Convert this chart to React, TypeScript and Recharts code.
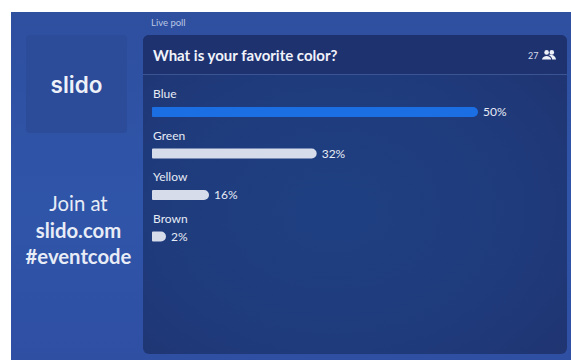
import { BarChart, Bar, XAxis, YAxis, Cell, LabelList } from "recharts";

const categories = ["Blue", "Green", "Yellow", "Brown"];
const percents = [50, 32, 16, 2];
const barColors = ["#1b6fe3", "#d6dcea", "#d6dcea", "#d6dcea"];

const rows = categories.map((name, i) => ({ name, percent: percents[i] }));

// Bar lengths on this board grow faster than the percentages, so the value axis is a power scale
function powerScale(exponent: number) {
  const make = (dom: number[], rng: number[]) => {
    const scale: any = (v: number) => {
      const t = (v - dom[0]) / (dom[1] - dom[0] || 1);
      return rng[0] + Math.pow(Math.max(t, 0), exponent) * (rng[1] - rng[0]);
    };
    scale.domain = (d?: number[]) => (d ? make(d, rng) : dom);
    scale.range = (r?: number[]) => (r ? make(dom, r) : rng);
    scale.copy = () => make(dom, rng);
    scale.ticks = () => dom;
    return scale;
  };
  return make([0, 1], [0, 1]);
}

const font = "Lato, sans-serif";

function NameLabel(props: any) {
  const { x, y, value } = props;
  return (
    <text x={x + 1} y={y - 9} fill="#e6ebf5" fontSize={12} fontFamily={font}>
      {value}
    </text>
  );
}

function PercentLabel(props: any) {
  const { x, y, width, height, value } = props;
  return (
    <text
      x={x + width + 5}
      y={y + height / 2 + 4}
      fill="#e6ebf5"
      fontSize={12}
      fontFamily={font}
    >
      {value}%
    </text>
  );
}

function PeopleIcon() {
  return (
    <svg width={14} height={10} viewBox="0 0 14 10" style={{ position: "absolute", left: 542, top: 50 }}>
      <circle cx={4.6} cy={2.4} r={2.3} fill="#eef1f8" />
      <circle cx={9.8} cy={2.4} r={2.3} fill="#eef1f8" />
      <path d="M0 9.5 C0.4 4.8 8.8 4.8 9.2 9.5 Z" fill="#eef1f8" />
      <path d="M6.5 5 C9 4.4 13.6 5.2 14 9.5 L10.2 9.5 C10 7.4 8.4 5.8 6.5 5 Z" fill="#eef1f8" />
    </svg>
  );
}

export default function App() {
  return (
    <div style={{ position: "absolute", left: 0, top: 0, width: 571, height: 360, background: "#fff", overflow: "hidden", fontFamily: font }}>
      <div
        style={{
          position: "absolute",
          left: 11,
          top: 12,
          width: 560,
          height: 348,
          background: "linear-gradient(180deg, #2f4f9f 0%, #2f55a9 55%, #2f4fa3 100%)",
        }}
      />
      <div style={{ position: "absolute", left: 151, top: 17, fontSize: 9.5, color: "#b9c6e4" }}>Live poll</div>

      <div style={{ position: "absolute", left: 26, top: 35, width: 101, height: 98, borderRadius: 4, background: "#2c4b99" }} />
      <div style={{ position: "absolute", left: 26, top: 71, width: 101, textAlign: "center", fontSize: 22.5, fontWeight: 600, fontFamily: "Inter, sans-serif", color: "#eef1f8" }}>
        slido
      </div>
      <div style={{ position: "absolute", left: 14, top: 190, width: 129, textAlign: "center", fontSize: 20.3, lineHeight: "26.5px", color: "#e8ecf6" }}>
        <div style={{ fontWeight: 400 }}>Join at</div>
        <div style={{ fontWeight: 700 }}>slido.com</div>
        <div style={{ fontWeight: 700 }}>#eventcode</div>
      </div>

      <div
        style={{
          position: "absolute",
          left: 143,
          top: 35,
          width: 424,
          height: 319,
          borderRadius: 6,
          overflow: "hidden",
          background: "radial-gradient(ellipse at 45% 55%, #1e4082 0%, #1f3b7c 55%, #20336f 100%)",
        }}
      >
        <div style={{ height: 39, background: "#1f3270", borderBottom: "1px solid #3b5494" }} />
      </div>
      <div style={{ position: "absolute", left: 153, top: 46, fontSize: 15, fontWeight: 700, color: "#f0f3fa" }}>
        What is your favorite color?
      </div>
      <div style={{ position: "absolute", left: 528, top: 50, fontSize: 9, color: "#d5dcec" }}>27</div>
      <PeopleIcon />

      <div style={{ position: "absolute", left: 152, top: 71 }}>
        <BarChart
          width={400}
          height={186}
          data={rows}
          layout="vertical"
          margin={{ top: 20, right: 74, bottom: 0, left: 0 }}
        >
          <XAxis type="number" dataKey="percent" domain={[0, 50]} scale={powerScale(1.53)} hide />
          <YAxis type="category" dataKey="name" hide />
          <Bar
            dataKey="percent"
            barSize={10}
            radius={[1, 5, 5, 1]}
            minPointSize={14}
            isAnimationActive={false}
          >
            {rows.map((row, i) => (
              <Cell key={row.name} fill={barColors[i]} />
            ))}
            <LabelList dataKey="name" content={<NameLabel />} />
            <LabelList dataKey="percent" content={<PercentLabel />} />
          </Bar>
        </BarChart>
      </div>
    </div>
  );
}
